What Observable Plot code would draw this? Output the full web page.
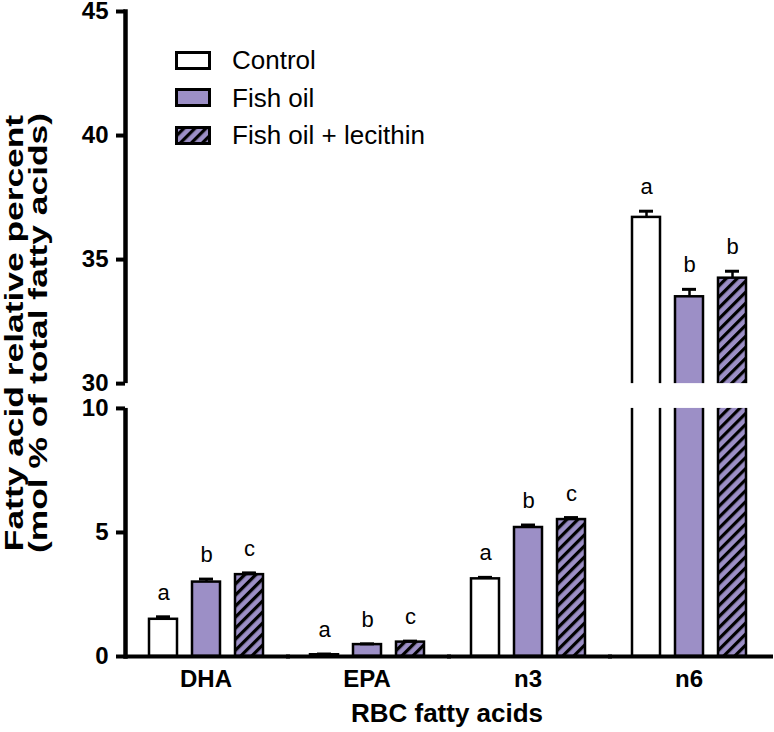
<!DOCTYPE html>
<html><head><meta charset="utf-8">
<script src="https://cdn.jsdelivr.net/npm/d3@7"></script>
<script src="https://cdn.jsdelivr.net/npm/@observablehq/plot@0.6"></script>
<style>
body{margin:0;background:#fff;font-family:"Liberation Sans",Arial,sans-serif;}
#wrap{position:relative;width:774px;height:732px;overflow:hidden;}
#wrap svg.plot{position:absolute;left:0;top:0;}
#ytitle{position:absolute;left:26px;top:333px;transform:translate(-50%,-50%) rotate(-90deg) scaleX(1.36);white-space:nowrap;text-align:center;font-weight:bold;font-size:26px;line-height:24px;color:#000;}
#xtitle{position:absolute;left:447px;top:713px;transform:translate(-50%,-50%);white-space:nowrap;font-weight:bold;font-size:26px;color:#000;}
#legend{position:absolute;left:174px;top:42px;}
.row{display:flex;align-items:center;height:37.5px;font-size:26px;color:#000;}
.row svg{margin-right:18px;flex:none;}
</style></head>
<body>
<svg width="0" height="0" style="position:absolute">
  <defs>
    <pattern id="hatch" patternUnits="userSpaceOnUse" width="7.8" height="7.8" patternTransform="rotate(45)">
      <rect width="7.8" height="7.8" fill="#9c8fc6"></rect>
      <rect width="3.2" height="7.8" fill="#000"></rect>
    </pattern>
  </defs>
</svg>
<div id="wrap">
  <div id="ytitle">Fatty acid relative percent<br>(mol % of total fatty acids)</div>
  <div id="xtitle">RBC fatty acids</div>
  <div id="legend"></div>
</div>
<script>
// ---- data ----
const categories = ["DHA", "EPA", "n3", "n6"];
const series = ["Control", "Fish oil", "Fish oil + lecithin"];
const controlValues = [1.5, 0.07, 3.13, 36.7];
const fishOilValues = [3.0, 0.48, 5.2, 33.5];
const lecithinValues = [3.3, 0.58, 5.52, 34.25];
const controlErr = [0.1, 0.03, 0.06, 0.25];
const fishOilErr = [0.12, 0.03, 0.1, 0.3];
const lecithinErr = [0.07, 0.04, 0.08, 0.28];
const controlLetters = ["a", "a", "a", "a"];
const fishOilLetters = ["b", "b", "b", "b"];
const lecithinLetters = ["c", "c", "c", "b"];
const yTicks = [0, 5, 10, 30, 35, 40, 45];

const PURPLE = "#9c8fc6";
const seriesFill = ["white", PURPLE, "url(#hatch)"];

const vals = [controlValues, fishOilValues, lecithinValues];
const errs = [controlErr, fishOilErr, lecithinErr];
const lets = [controlLetters, fishOilLetters, lecithinLetters];
const rows = categories.flatMap((c, i) => series.map((s, j) => ({
  category: c, series: s, value: vals[j][i], err: errs[j][i], letter: lets[j][i]
})));

// broken axis: 0–10 and 30–45 (gap of one unit between them)
const brk = v => (v >= 20 ? v - 19 : v);
const unbrk = t => (t > 10.5 ? t + 19 : t);

const F = '"Liberation Sans", Arial, sans-serif';

const chart = Plot.plot({
  width: 774,
  height: 732,
  marginLeft: 124,
  marginRight: 4,
  marginTop: 11,
  marginBottom: 76,
  style: {fontFamily: F, color: "#000", background: "white"},
  fx: {domain: categories, padding: 0, label: null},
  x: {domain: series, paddingInner: 0.35, paddingOuter: 0.51, axis: null},
  y: {domain: [0, 26], transform: brk, axis: null},
  color: {domain: series, range: seriesFill},
  marks: [
    Plot.frame({anchor: "left", facetAnchor: "left", stroke: "#000", strokeWidth: 4.5}),
    Plot.barY(rows, {fx: "category", x: "series", y: "value", fill: "series", stroke: "#000", strokeWidth: 2.5}),
    Plot.ruleX(rows, {fx: "category", x: "series", y1: "value", y2: d => d.value + d.err, stroke: "#000", strokeWidth: 2.5}),
    Plot.tickY(rows, {fx: "category", x: "series", y: d => d.value + d.err, stroke: "#000", strokeWidth: 3, insetLeft: 7, insetRight: 7}),
    Plot.text(rows, {fx: "category", x: "series", y: d => d.value + d.err, text: "letter", dy: -24, fontSize: 22, fontFamily: F, fill: "#000"}),
    Plot.rectY([0], {y1: 10, y2: 30, fill: "white", insetLeft: -10}),
    Plot.ruleY([0], {stroke: "#000", strokeWidth: 4, insetRight: -4}),
    // axis ticks are placed in the broken (plotted) space and labelled with the real value
    Plot.axisY({ticks: yTicks.map(brk), tickFormat: t => String(unbrk(t)), tickSize: 9, tickPadding: 8, strokeWidth: 4, fontSize: 24, fontWeight: "bold", fontFamily: F, label: null, stroke: "#000"}),
    Plot.axisFx({anchor: "bottom", tickSize: 0, tickPadding: 13, fontSize: 24, fontWeight: "bold", fontFamily: F, label: null})
  ]
});
chart.classList.add("plot");
const wrap = document.getElementById("wrap");
wrap.insertBefore(chart, wrap.firstChild);

// legend
const legend = document.getElementById("legend");
series.forEach((s, j) => {
  const row = document.createElement("div");
  row.className = "row";
  row.innerHTML = `<svg width="40" height="22"><rect x="2.5" y="2.5" width="33" height="16" fill="${seriesFill[j]}" stroke="#000" stroke-width="3"></rect></svg><span>${s}</span>`;
  legend.appendChild(row);
});
</script>
</body></html>
